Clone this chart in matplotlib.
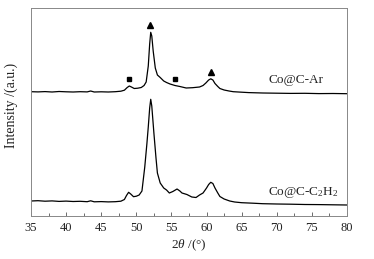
import matplotlib
matplotlib.use("Agg")
import matplotlib.pyplot as plt

# Co@C-Ar pattern (x in 2theta degrees, y in arbitrary units)
ar_x = [35, 36, 37, 38, 39, 40, 41, 42, 43, 43.5, 44, 45, 46, 47, 47.8, 48.3, 48.7, 49.0, 49.3, 49.7,
        50.2, 50.7, 51.1, 51.4, 51.7, 51.9, 52.05, 52.2, 52.4, 52.7, 53.0, 53.4, 53.9, 54.3, 54.8,
        55.5, 56.2, 57.1, 58.0, 59.0, 59.5, 59.9, 60.3, 60.6, 60.9, 61.2, 61.6, 61.9, 62.5, 63.2,
        63.8, 65, 66, 67, 68, 70, 72, 74, 76, 78, 80]
ar_y = [124.3, 124.1, 124.4, 124.0, 124.5, 124.2, 124.0, 124.3, 124.1, 125.0, 124.0, 124.2, 124.0,
        124.3, 124.8, 125.8, 128.5, 130.0, 129.0, 127.5, 127.8, 128.5, 130.5, 134.0, 150.0, 172.0,
        183.7, 180.0, 165.0, 148.0, 141.0, 138.5, 135.0, 133.5, 132.0, 130.5, 129.5, 128.0, 128.3,
        129.0, 130.5, 133.0, 136.0, 137.2, 136.0, 132.5, 129.5, 127.5, 126.0, 125.0, 124.3, 123.8,
        123.4, 123.2, 123.0, 122.8, 122.6, 122.7, 122.4, 122.5, 122.3]

# Co@C-C2H2 pattern
c2_x = [35, 36, 37, 38, 39, 40, 41, 42, 43, 43.5, 44, 45, 46, 47, 47.8, 48.3, 48.6, 48.9, 49.2,
        49.6, 50.0, 50.4, 50.8, 51.2, 51.5, 51.7, 51.9, 52.05, 52.2, 52.5, 52.8, 53.0, 53.4, 53.9,
        54.3, 54.7, 55.2, 55.8, 56.2, 56.5, 57.2, 57.9, 58.5, 59.0, 59.5, 60.0, 60.3, 60.6, 60.9,
        61.2, 61.6, 61.9, 62.5, 63.3, 64, 65, 66.6, 68, 70, 72, 74, 76, 78, 80]
c2_y = [15.0, 15.3, 14.8, 15.1, 14.6, 14.9, 14.5, 14.7, 14.3, 15.2, 14.2, 14.4, 14.1, 14.3, 14.8,
        16.5, 20.5, 23.7, 22.0, 19.3, 19.8, 21.0, 25.0, 49.0, 72.0, 89.0, 108.0, 116.7, 110.0, 83.0,
        58.0, 43.0, 33.0, 28.0, 26.0, 23.0, 24.5, 27.0, 25.0, 23.0, 21.5, 19.0, 18.5, 21.0, 23.0,
        28.0, 31.5, 33.7, 32.5, 28.0, 23.0, 19.5, 17.0, 15.0, 14.0, 13.3, 12.8, 12.3, 12.0, 11.8,
        11.5, 11.4, 11.2, 11.0]

# Phase markers
sq_x = [49.0, 55.5]
sq_y = [137, 137]
tri_x = [52.0, 60.6]
tri_y = [191, 144]

labels = ["Co@C-Ar", "Co@C-C$_2$H$_2$"]
label_x = [68.8, 68.8]
label_y = [136, 23]

xticks = [35, 40, 45, 50, 55, 60, 65, 70, 75, 80]

plt.rcParams['font.family'] = ['Liberation Serif', 'DejaVu Serif']
plt.rcParams['mathtext.fontset'] = 'custom'
plt.rcParams['mathtext.rm'] = 'Liberation Serif'
plt.rcParams['mathtext.it'] = 'Liberation Serif:italic'

fig = plt.figure(figsize=(3.74, 2.59), dpi=100)
ax = fig.add_axes([31/374, 1-216/259, (347-31)/374, (216-8)/259])

ax.plot(ar_x, ar_y, color='black', lw=0.9)
ax.plot(c2_x, c2_y, color='black', lw=0.9)
ax.plot(sq_x, sq_y, 's', color='black', ms=3.5, ls='none')
ax.plot(tri_x, tri_y, '^', color='black', ms=4, ls='none')

for t, tx, ty in zip(labels, label_x, label_y):
    ax.text(tx, ty, t, fontsize=9.5, ha='left', va='center', color='#222222')

ax.set_xlim(35, 80)
ax.set_ylim(0, 208)
ax.set_xticks(xticks)
ax.set_xticks([x + 2.5 for x in xticks[:-1]], minor=True)
ax.set_yticks([])
ax.tick_params(axis='x', which='major', direction='in', length=3, width=0.6,
               labelsize=9, pad=4, colors='#555555', labelcolor='#222222')
ax.tick_params(axis='x', which='minor', direction='in', length=2, width=0.6, colors='#555555')
for s in ax.spines.values():
    s.set_color('#888888')
    s.set_linewidth(0.7)

ax.set_xlabel(r'2$\it{\theta}$ /(°)', fontsize=9.5, color='#222222', labelpad=3)
ax.set_ylabel('Intensity /(a.u.)', fontsize=10, color='#222222')
ax.yaxis.set_label_coords(-0.042, 0.53)

fig.savefig('out.png', dpi=100)
